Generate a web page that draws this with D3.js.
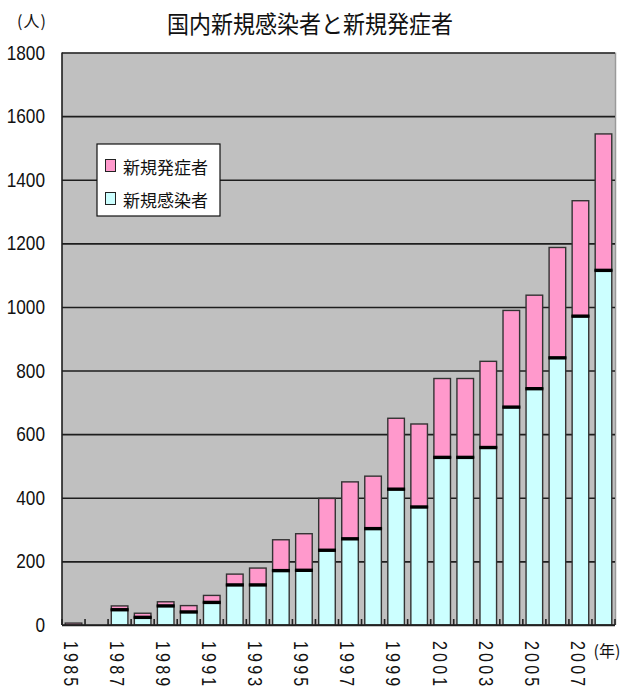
<!DOCTYPE html>
<html>
<head>
<meta charset="utf-8">
<script src="https://cdn.jsdelivr.net/npm/d3@7"></script>
<style>
  html, body { margin: 0; padding: 0; background: #ffffff; }
  svg { display: block; }
</style>
</head>
<body>
<svg id="chart" width="622" height="695"></svg>
<script>
// Annual new cases in Japan, 1985–2008 (persons)
const years = ["1985","1986","1987","1988","1989","1990","1991","1992","1993","1994","1995","1996",
               "1997","1998","1999","2000","2001","2002","2003","2004","2005","2006","2007","2008"];
// 新規感染者 (new infections) – lower segment
const infections = [0, 0, 48, 24, 60, 41, 71, 126, 126, 171, 172, 235,
                    271, 303, 427, 371, 527, 527, 558, 685, 743, 840, 971, 1115];
// 新規発症者 (new onsets) – upper segment
const onsets = [6, 0, 12, 13, 13, 20, 22, 34, 53, 97, 115, 163,
                179, 165, 223, 261, 248, 248, 271, 304, 294, 347, 363, 429];
const yTicks = [0, 200, 400, 600, 800, 1000, 1200, 1400, 1600, 1800];
const xTickLabels = ["1985","1987","1989","1991","1993","1995","1997","1999","2001","2003","2005","2007"];
const seriesNames = ["新規発症者", "新規感染者"];
const seriesColors = ["#ff99cc", "#ccffff"];

const svg = d3.select("#chart");
const plot = { left: 62, right: 615, top: 52.5, bottom: 625 };

const x = d3.scaleBand().domain(years)
  .range([plot.left, plot.right]).paddingInner(0.28).paddingOuter(0.14);
const y = d3.scaleLinear().domain([0, 1800]).range([plot.bottom, plot.top]);

const numFont = "'Liberation Sans', Arial, sans-serif";
const cjkFont = "'Noto Sans CJK JP', 'Noto Sans CJK SC', sans-serif";
const narrow = 0.82; // horizontal squeeze giving the numerals a condensed look

// Plot background
svg.append("rect")
  .attr("x", plot.left).attr("y", plot.top)
  .attr("width", plot.right - plot.left).attr("height", plot.bottom - plot.top)
  .attr("fill", "#c0c0c0");
svg.append("line")
  .attr("x1", plot.right + 0.5).attr("x2", plot.right + 0.5)
  .attr("y1", plot.top).attr("y2", plot.bottom)
  .attr("stroke", "#9a9a9a").attr("stroke-width", 1.5);

// Horizontal grid lines
const grid = svg.append("g")
  .attr("transform", `translate(${plot.left},0)`)
  .call(d3.axisLeft(y).tickValues(yTicks).tickSize(-(plot.right - plot.left)).tickFormat(""));
grid.select(".domain").remove();
grid.selectAll(".tick line").attr("stroke", "#1e1e1e").attr("stroke-width", 1.6);

// Y axis labels (condensed numerals, right-aligned)
svg.append("g").selectAll("text").data(yTicks).join("text")
  .attr("transform", d => `translate(45,${y(d)}) scale(${narrow},1)`)
  .attr("text-anchor", "end")
  .attr("dominant-baseline", "central")
  .attr("font-family", numFont).attr("font-size", 21).attr("fill", "#111")
  .text(d => d3.format("d")(d));

// Stacked bars
const bars = svg.append("g");
years.forEach((yr, i) => {
  const x0 = x(yr), w = x.bandwidth();
  if (infections[i] > 0) {
    bars.append("rect")
      .attr("x", x0).attr("y", y(infections[i]))
      .attr("width", w).attr("height", y(0) - y(infections[i]))
      .attr("fill", seriesColors[1]).attr("stroke", "#333").attr("stroke-width", 1.4);
  }
  if (onsets[i] > 0) {
    const top = infections[i] + onsets[i];
    bars.append("rect")
      .attr("x", x0).attr("y", y(top))
      .attr("width", w).attr("height", y(infections[i]) - y(top))
      .attr("fill", seriesColors[0]).attr("stroke", "#333").attr("stroke-width", 1.4);
  }
  if (infections[i] > 0 && onsets[i] > 0) {
    // dark separator between the two segments
    bars.append("line")
      .attr("x1", x0 - 0.7).attr("x2", x0 + w + 0.7)
      .attr("y1", y(infections[i])).attr("y2", y(infections[i]))
      .attr("stroke", "#000").attr("stroke-width", 3.4);
  }
});

// Axis lines
svg.append("line")
  .attr("x1", plot.left).attr("x2", plot.left)
  .attr("y1", plot.top).attr("y2", plot.bottom)
  .attr("stroke", "#1e1e1e").attr("stroke-width", 1.6);
svg.append("line")
  .attr("x1", plot.left).attr("x2", plot.right)
  .attr("y1", plot.bottom).attr("y2", plot.bottom)
  .attr("stroke", "#1e1e1e").attr("stroke-width", 1.6);

// Inside tick marks on the category axis, at band boundaries
const step = x.step();
const boundaries = years.map((yr) => x(yr) - (step - x.bandwidth()) / 2).concat([plot.right]);
svg.append("g").selectAll("line").data(boundaries).join("line")
  .attr("x1", d => d).attr("x2", d => d)
  .attr("y1", plot.bottom).attr("y2", plot.bottom - 6)
  .attr("stroke", "#222").attr("stroke-width", 1.6);

// Category labels, rotated to read downward
svg.append("g").selectAll("text").data(xTickLabels).join("text")
  .attr("transform", d => `translate(${x(d) + x.bandwidth() / 2 - 3},641) rotate(90) scale(0.8,1)`)
  .attr("font-family", numFont).attr("font-size", 20)
  .attr("letter-spacing", 4)
  .attr("dominant-baseline", "central")
  .attr("fill", "#111")
  .text(d => d);

// Unit labels
svg.append("text")
  .attr("x", 32).attr("y", 27).attr("text-anchor", "middle")
  .attr("font-family", cjkFont).attr("font-size", 16).attr("letter-spacing", 1).attr("fill", "#111")
  .text("(人)");
svg.append("text")
  .attr("x", 607).attr("y", 657).attr("text-anchor", "middle")
  .attr("font-family", cjkFont).attr("font-size", 16).attr("fill", "#111")
  .text("(年)");

// Title
svg.append("text")
  .attr("transform", "translate(310,33) scale(1,1.1)")
  .attr("text-anchor", "middle")
  .attr("font-family", cjkFont).attr("font-size", 22).attr("fill", "#111")
  .text("国内新規感染者と新規発症者");

// Legend
const legend = svg.append("g").attr("transform", "translate(97,144)");
legend.append("rect")
  .attr("x", 0).attr("y", 0).attr("width", 123).attr("height", 72)
  .attr("fill", "#ffffff").attr("stroke", "#111").attr("stroke-width", 1.2);
seriesNames.forEach((name, i) => {
  const cy = 22 + i * 33;
  legend.append("rect")
    .attr("x", 8.5).attr("y", cy - 6.5).attr("width", 10).attr("height", 12)
    .attr("fill", seriesColors[i]).attr("stroke", "#222").attr("stroke-width", 1);
  legend.append("text")
    .attr("x", 26).attr("y", cy).attr("dominant-baseline", "central")
    .attr("font-family", cjkFont).attr("font-size", 17).attr("fill", "#111")
    .text(name);
});
</script>
</body>
</html>
